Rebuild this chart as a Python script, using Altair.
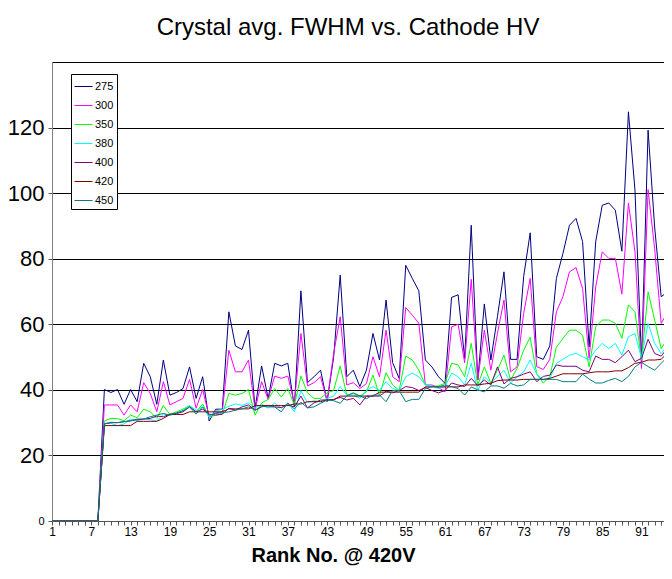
import altair as alt
import pandas as pd

ranks = list(range(1, 97))
series_names = ["275", "300", "350", "380", "400", "420", "450"]
colors = ["#000080", "#FF00FF", "#00FF00", "#00FFFF", "#800080", "#800000", "#008080"]

zeros = [0] * 8

fwhm_275 = zeros + [
    40.1, 39.2, 40.1, 35.6, 40.1, 36.4, 48.1, 44, 35.6, 49.1, 38.4, 39.2, 40.4, 47, 37.4,
    44, 30.5, 34.1, 34.1, 63.8, 53.4, 52.3, 58.2, 34.4, 47.3, 37.4, 48.1, 47.3, 48.1,
    34.8, 70.2, 42.2, 44, 46, 36.4, 50, 75, 44, 46, 41, 46, 57.2, 49.1, 67.4,
    48.3, 43.5, 78, 74, 70.2, 49.1, 47, 44, 42, 68.2, 69, 49.6, 90.2, 43,
    66.2, 49.1, 62.3, 76, 49.3, 49.3, 74.5, 87.9, 50.1, 49.3, 53.4, 74, 81.6, 90.2, 92.3,
    85.2, 53.1, 85.2, 96.3, 97, 94.8, 82.3, 124.8, 100.9, 48.6, 119.2, 89.7, 68.4, 69.9, 105]

fwhm_300 = zeros + [
    35.4, 35.4, 35.4, 32.3, 35.4, 33.3, 42.2, 38.9, 33.3, 42.5, 35.4, 36.4, 37.4, 43.2, 34.4,
    40.1, 31.8, 33, 33.3, 52.1, 45.5, 45.5, 49.1, 34, 42.5, 37.1, 44.2, 43.5, 44.2,
    35.9, 57.2, 41.2, 42.2, 44, 36.7, 51.1, 62.3, 41.5, 42.2, 40.4, 41.9, 50.1, 44, 58.2,
    44, 42.5, 65.1, 62.8, 60.3, 41.5, 41.5, 40.7, 39.4, 59.2, 60, 48.3, 73.7, 43,
    58.2, 46, 57.2, 67.4, 45.5, 47, 63.3, 74, 47.1, 46.2, 49.3, 63.8, 68.4, 76, 77.3,
    70.9, 49.6, 71.4, 82.1, 80.1, 80.1, 69.2, 97, 82.1, 46.5, 101.1, 83.1, 60.3, 63.8, 76.5]

fwhm_350 = zeros + [
    30.5, 31.3, 31.2, 30.6, 32.3, 31.5, 34.1, 33.3, 31.3, 35.2, 32.5, 33.3, 34.1, 35.2, 33.3,
    35.7, 31.8, 32.3, 32.6, 38.9, 38.4, 38.9, 40.1, 32.3, 36, 37.1, 40.4, 37.8, 40.4,
    35.4, 44.2, 39.1, 37.4, 37.4, 39.1, 39.8, 47.3, 38.4, 38.9, 38.1, 39.4, 44.5, 38.3, 45.2,
    41.5, 39.8, 50.3, 49.1, 46, 41.5, 41, 41.2, 42, 48.1, 47.6, 44, 54.2, 41.5,
    47, 42, 46, 50.6, 43, 46.5, 52.1, 56, 44.8, 42.1, 44, 53, 55.7, 58.2, 58.2,
    56.7, 47, 59.2, 61.3, 61.3, 60.3, 55.7, 65.9, 63.8, 49.1, 69.9, 61.3, 52.6, 55.7, 68.4]

fwhm_380 = zeros + [
    29.8, 29.8, 29.1, 29.6, 31.1, 30.6, 31.1, 30.9, 30.5, 32.6, 32.3, 32.6, 33.8, 35.2, 33.8,
    34.8, 31.6, 33.6, 34, 35, 35.7, 35.3, 36, 34.4, 35.7, 34.4, 36, 34.4, 36,
    33.3, 39.8, 36.1, 36.7, 36.4, 37.4, 38.1, 41, 38.4, 38.4, 37.4, 39.8, 41, 39.8, 42.5,
    40.4, 39.8, 44, 45.1, 44, 41.5, 41.2, 40.4, 41, 45.1, 44, 41.5, 48.1, 39.8,
    44, 42, 44, 46, 42.1, 44, 45.5, 49.1, 44.8, 43, 43.5, 48.1, 49.3, 50.6, 51.1,
    50.1, 49.1, 52.1, 54.2, 52.6, 54.2, 50.6, 56.2, 57.2, 49.6, 60.3, 54.2, 51.1, 53.6, 60]

fwhm_400 = zeros + [
    29.6, 30, 30, 30.3, 30.6, 30.9, 31.1, 31.3, 32, 31.8, 32.6, 32.8, 33.3, 34.8, 33.3,
    34.1, 32.6, 32.3, 32.6, 34.4, 33.8, 34.8, 35.4, 33.8, 34.8, 35.2, 34.8, 34.6, 35.4,
    34.8, 38.1, 34.5, 36, 36.9, 36.9, 37.1, 37.7, 36.9, 37.4, 35.4, 38.1, 38.1, 38.1, 39.6,
    39.1, 39.8, 41, 40.7, 39.8, 40.7, 39.8, 39.1, 39.8, 42.1, 41.5, 41, 43.5, 41.3,
    43, 41.5, 47, 41.8, 43.5, 44, 44.8, 45.5, 42.5, 44.1, 44.5, 47.6, 47.2, 47.2, 47.2,
    46, 45.5, 50.3, 49.3, 49.3, 48.3, 50.1, 52.1, 48.6, 49.6, 55.4, 51.1, 50.3, 52.8, 58.2]

fwhm_420 = zeros + [
    29.1, 29.1, 29.1, 29.1, 29.1, 30.4, 30.4, 30.4, 30.4, 31.3, 32.5, 32.5, 32.5, 33.3, 33.3,
    33.3, 33.3, 33.3, 33.3, 34.2, 34.2, 34.2, 34.2, 35.2, 35.2, 35.2, 35.2, 35.2, 35.2,
    35.7, 35.7, 36.4, 36.4, 36.4, 36.9, 36.9, 38.1, 38.1, 38.1, 38.1, 38.1, 38.1, 39.3, 39.3,
    39.3, 39.3, 39.3, 39.3, 39.3, 40.9, 40.9, 40.9, 40.9, 40.9, 40.9, 41.5, 41.5, 41.5,
    41.8, 42, 42.8, 43, 43, 43, 43.2, 43.2, 43.2, 43.2, 43.5, 44.2, 44.9, 44.9, 44.9,
    44.9, 45.2, 45.5, 45.5, 45.5, 45.8, 45.8, 46.8, 48.1, 48.4, 49.1, 49.1, 49.3, 51.4, 55]

fwhm_450 = zeros + [
    29.6, 30.1, 30, 30.3, 30.5, 31.1, 31.1, 31.8, 32.3, 32.8, 32.3, 33, 33.6, 34.8, 32.6,
    34.8, 32.3, 32.8, 33, 33.3, 33.8, 34.2, 34.8, 33.8, 35, 34.8, 34.8, 33.3, 36,
    34.2, 36.2, 34.5, 34.8, 35.9, 36.9, 36.7, 35.9, 38.2, 39.1, 38.1, 37.3, 38.4, 38.4, 36.4,
    39.8, 39.8, 36.4, 37.1, 37.1, 40.4, 41, 40.9, 41.5, 41, 40.4, 38.4, 40.9, 40,
    39.4, 41.2, 41.2, 40.5, 42, 41.2, 41.5, 43.2, 43.2, 43.2, 43.2, 43.2, 42.5, 42.5, 42.5,
    44.8, 43.3, 42.1, 42.1, 42.9, 43.5, 42.5, 44.1, 47, 48.4, 47.1, 46, 48.1, 50.1, 51.1]

all_series = [fwhm_275, fwhm_300, fwhm_350, fwhm_380, fwhm_400, fwhm_420, fwhm_450]

y_ticks = [0, 20, 40, 60, 80, 100, 120, 140]
x_ticks = list(range(1, 95))

rows = []
for name, vals in zip(series_names, all_series):
    for r, v in zip(ranks, vals):
        rows.append({"rank": r, "hv": name, "fwhm": v})
df = pd.DataFrame(rows)

FONT = "Liberation Sans"

chart = alt.Chart(df).mark_line(strokeWidth=1, clip=True).encode(
    x=alt.X(
        "rank:Q",
        scale=alt.Scale(domain=[1, 94.43], nice=False, zero=False),
        axis=alt.Axis(
            values=x_ticks,
            labelExpr="(datum.value - 1) % 6 == 0 ? datum.label : ''",
            grid=False,
            tickSize=4,
            tickColor="#555555",
            domainColor="#555555",
            labelFont=FONT,
            labelFontSize=12,
            labelColor="#000000",
            labelPadding=1,
            labelFlush=False,
            labelOverlap=False,
            title="Rank No. @ 420V",
            titleFont=FONT,
            titleFontSize=20,
            titleFontWeight="bold",
            titleColor="#000000",
            titleX=281,
            titleY=40,
            titleAlign="center",
            titleBaseline="alphabetic",
        ),
    ),
    y=alt.Y(
        "fwhm:Q",
        scale=alt.Scale(domain=[0, 140], nice=False),
        axis=alt.Axis(
            values=y_ticks,
            labelExpr="datum.value == 140 ? '' : datum.label",
            grid=True,
            gridColor="#000000",
            gridWidth=1,
            tickSize=4,
            tickColor={"condition": {"test": "datum.value == 140", "value": "transparent"}, "value": "#555555"},
            domainColor="#808080",
            labelFont=FONT,
            labelFontSize={"condition": {"test": "datum.value == 0", "value": 11}, "value": 22},
            labelColor="#000000",
            labelPadding=4,
            title=None,
        ),
    ),
    color=alt.Color(
        "hv:N",
        scale=alt.Scale(domain=series_names, range=colors),
        legend=alt.Legend(
            title=None,
            orient="none",
            legendX=19,
            legendY=12,
            direction="vertical",
            fillColor="#ffffff",
            strokeColor="#000000",
            padding=3,
            symbolType="stroke",
            symbolSize=324,
            symbolStrokeWidth=1,
            labelFont=FONT,
            labelFontSize=11,
            labelColor="#000000",
            labelOffset=2,
            rowPadding=4,
        ),
    ),
).properties(
    width=612,
    height=459,
    padding={"left": 44, "top": 54, "right": 0, "bottom": 46},
    autosize=alt.AutoSizeParams(type="none"),
    title=alt.TitleParams(
        text="Crystal avg. FWHM vs. Cathode HV",
        font=FONT,
        fontSize=24,
        fontWeight="normal",
        color="#000000",
        anchor="middle",
        dx=-10,
        offset=22,
    ),
).configure_view(stroke=None)

chart.save("out.html", embed_options={"renderer": "svg", "actions": False})
